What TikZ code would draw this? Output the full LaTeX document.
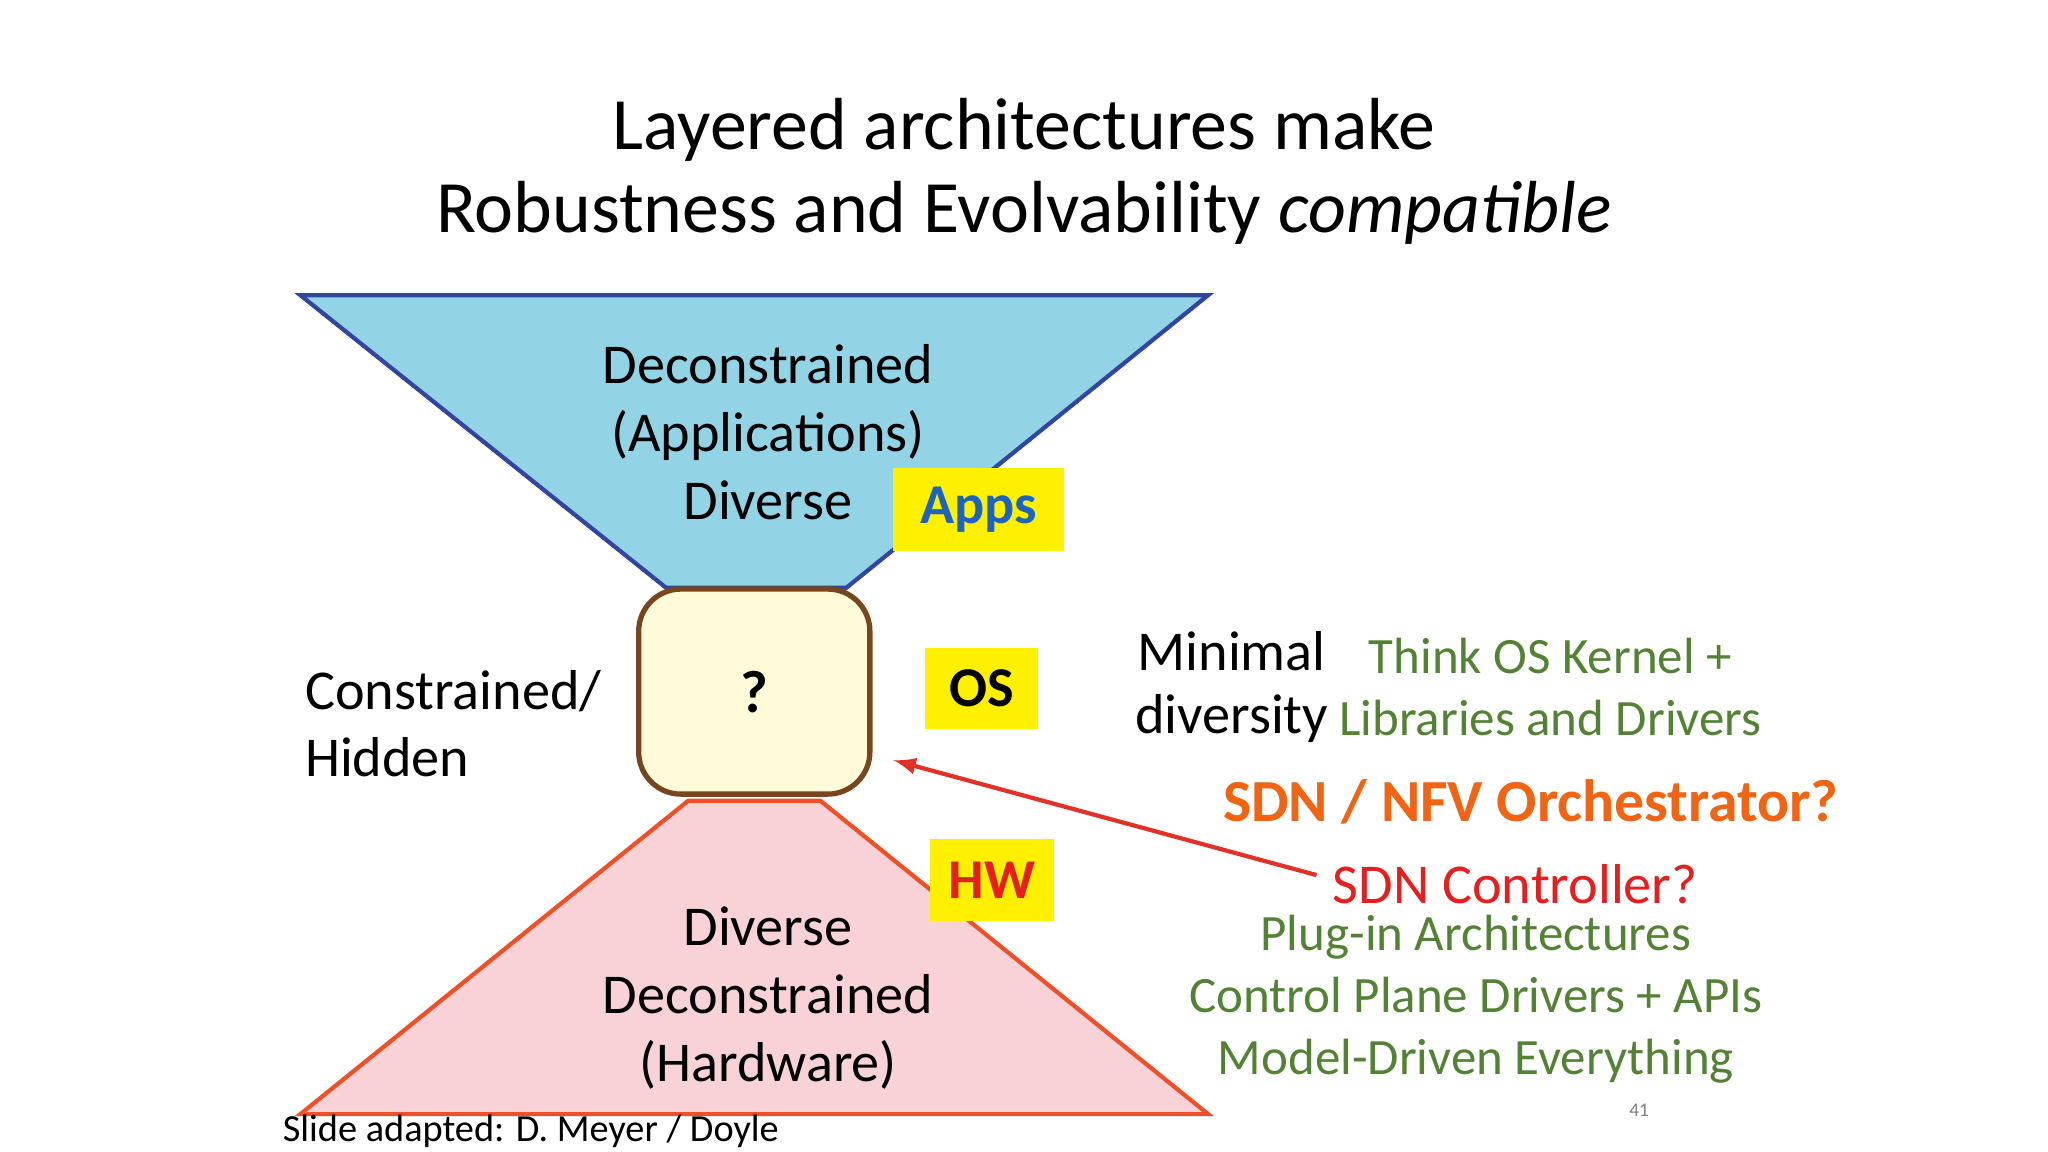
\documentclass[tikz,border=0pt]{standalone}
\usepackage{fontspec}
\setmainfont{Carlito}
\begin{document}
\begin{tikzpicture}[x=0.013061cm,y=-0.013061cm,
  body/.style={font=\fontsize{16}{19.3}\selectfont,align=center,inner sep=0},
  green/.style={font=\fontsize{14.5}{17.5}\selectfont,text={rgb,255:red,84;green,130;blue,53},inner sep=0},
  ybox/.style={fill={rgb,255:red,255;green,240;blue,0},draw=none}]
\useasboundingbox (0,0) rectangle (1568,882);
\node[font=\fontsize{21}{23.5}\selectfont,align=center] (title) at (784,131) {Layered architectures make\\Robustness and Evolvability \textit{compatible}};
\draw[fill={rgb,255:red,146;green,211;blue,230},draw={rgb,255:red,50;green,70;blue,160},line width=1.2pt] (230,226)--(925,226)--(648,450)--(510,450)--cycle;
\draw[fill={rgb,255:red,248;green,210;blue,215},draw={rgb,255:red,240;green,80;blue,40},line width=1.2pt] (527,613)--(628,613)--(925,853)--(230,853)--cycle;
\node[draw={rgb,255:red,120;green,70;blue,30},fill={rgb,255:red,255;green,250;blue,215},line width=1.5pt,rounded corners=12pt,minimum width=177*0.013061cm,minimum height=157*0.013061cm,font=\fontsize{17}{18}\selectfont\bfseries] (q) at (577.5,529.5) {?};
\node[ybox,minimum width=131*0.013061cm,minimum height=63*0.013061cm,font=\fontsize{16}{18}\selectfont\bfseries,text={rgb,255:red,30;green,100;blue,190}] (apps) at (749.5,390) {Apps};
\node[ybox,minimum width=87*0.013061cm,minimum height=62*0.013061cm,font=\fontsize{16}{18}\selectfont\bfseries] (os) at (751.5,527) {OS};
\node[ybox,minimum width=95*0.013061cm,minimum height=63*0.013061cm,font=\fontsize{16}{18}\selectfont\bfseries,text={rgb,255:red,230;green,30;blue,30}] (hw) at (759.5,674) {HW};
\node[body] (top) at (588,331) {Deconstrained\\(Applications)\\Diverse};
\node[body] (bot) at (588,764) {Diverse\\Deconstrained\\(Hardware)};
\node[body,align=left,anchor=west] (con) at (233,554) {Constrained/\\Hidden};
\node[body,font=\fontsize{16}{18}\selectfont] (min) at (943,526) {Minimal\\diversity};
\node[green,align=center] (think) at (1187,526) {Think OS Kernel +\\Libraries and Drivers};
\node[font=\fontsize{17}{18}\selectfont\bfseries,text={rgb,255:red,240;green,100;blue,20},inner sep=0] (sdn) at (1172,614) {SDN / NFV Orchestrator?};
\node[font=\fontsize{16}{18}\selectfont,text={rgb,255:red,230;green,30;blue,30},inner sep=0,anchor=west] (ctrl) at (1020,677) {SDN Controller?};
\node[green,align=center] (plug) at (1130,765) {Plug-in Architectures\\Control Plane Drivers + APIs\\Model-Driven Everything};
\coordinate (af) at (1008,670);
\draw[->,>=latex,draw={rgb,255:red,225;green,50;blue,40},line width=1.2pt] (af)--(684,582);
\node[font=\fontsize{10.9}{12}\selectfont,anchor=west,inner sep=0] (foot) at (216,866) {Slide adapted: D. Meyer / Doyle};
\node[font=\fontsize{5.5}{6}\selectfont,text=gray,inner sep=0] (num) at (1255,850) {41};
\end{tikzpicture}
\end{document}
